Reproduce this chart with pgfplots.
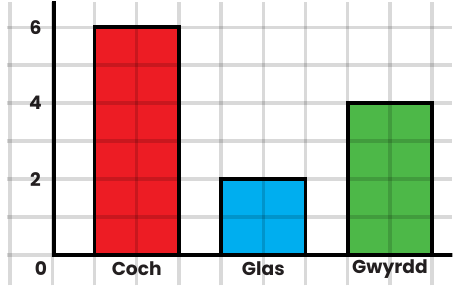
\documentclass[border=0pt]{standalone}
\usepackage{pgfplots}
\pgfplotsset{compat=1.18}
\usepackage{fontspec}
\setmainfont{Poppins}
\definecolor{cred}{RGB}{237,28,36}
\definecolor{cblue}{RGB}{0,174,239}
\definecolor{cgreen}{RGB}{77,184,72}
\definecolor{ctext}{RGB}{35,31,32}
\begin{document}
\begin{tikzpicture}
\begin{axis}[
  scale only axis,
  width=454pt, height=289pt,
  xmin=-1.081, xmax=9.477,
  ymin=-0.80, ymax=6.672,
  axis line style={draw=none},
  xtick={-1,0,...,9}, ytick={0,1,...,6},
  xticklabels={}, yticklabels={},
  major tick length=0pt,
  grid=major,
  grid style={black, opacity=0.15, line width=3.5pt},
  axis on top,
  ybar, bar shift=0pt, bar width=2,
  every axis plot/.append style={draw=black, line width=3.8pt},
  clip=true,
]
\addplot[fill=cred] coordinates {(2,6)};
\addplot[fill=cblue] coordinates {(5,2)};
\addplot[fill=cgreen] coordinates {(8,4)};
\draw[black, line width=4pt] (axis cs:0.03,6.8) -- (axis cs:0.03,0) -- (axis cs:9.6,0);
\begin{scope}[every node/.style={font=\fontsize{19}{22}\selectfont\bfseries, text=ctext}]
\node at (axis cs:-0.4,6) {6};
\node at (axis cs:-0.4,4) {4};
\node at (axis cs:-0.4,2) {2};
\node at (axis cs:-0.27,-0.37) {0};
\node at (axis cs:2,-0.37) {Coch};
\node at (axis cs:5,-0.37) {Glas};
\node at (axis cs:8,-0.37) {Gwyrdd};
\end{scope}
\end{axis}
\end{tikzpicture}
\end{document}
